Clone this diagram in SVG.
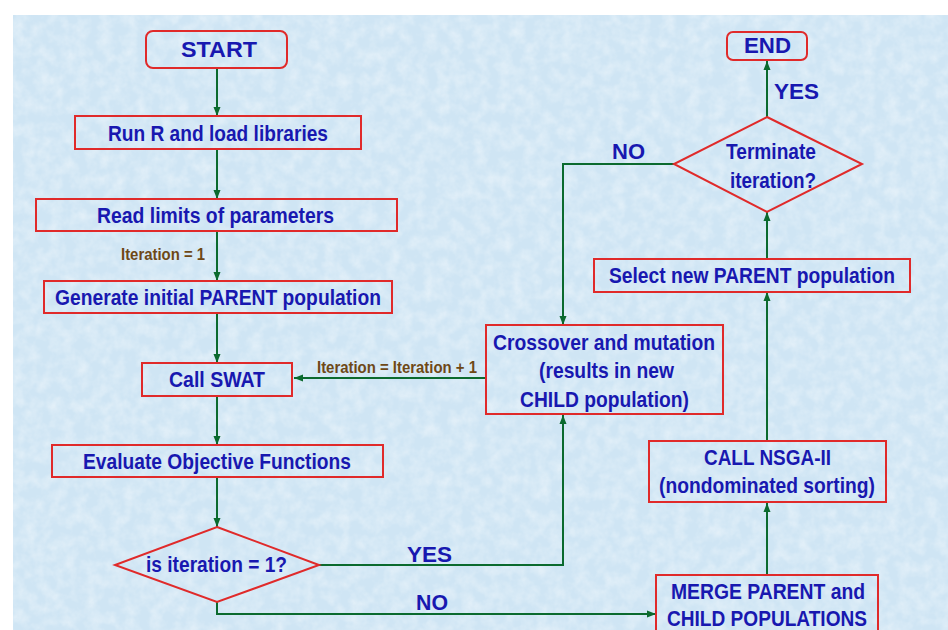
<svg xmlns="http://www.w3.org/2000/svg" width="948" height="630" viewBox="0 0 948 630">
  <defs>
    <filter id="tex" x="0" y="0" width="100%" height="100%">
      <feTurbulence type="fractalNoise" baseFrequency="0.08" numOctaves="3" seed="4" result="n"/>
      <feColorMatrix in="n" type="matrix" values="0 0 0 0 1  0 0 0 0 1  0 0 0 0 1  0 0 0 -1.6 1.05" result="w"/>
      <feComposite in="w" in2="SourceGraphic" operator="in"/>
    </filter>
    <marker id="ah" markerUnits="userSpaceOnUse" markerWidth="10" markerHeight="10" viewBox="0 0 10 10" refX="9" refY="5" orient="auto">
      <path d="M0,1.5 L9,5 L0,8.5 Z" fill="#0b6a2e"/>
    </marker>
  </defs>
  <style>
    .box { fill: none; stroke: #e02a2a; stroke-width: 2; }
    .t { font-family: "Liberation Sans", Arial, sans-serif; font-weight: bold; fill: #1818b0; font-size: 22px; }
    .lbl { font-family: "Liberation Sans", Arial, sans-serif; font-weight: bold; fill: #6e4816; font-size: 17px; }
    .c { fill: none; stroke: #0b6a2e; stroke-width: 2; marker-end: url(#ah); }
  </style>
  <rect x="0" y="0" width="948" height="630" fill="#ffffff"/>
  <rect x="13" y="15" width="935" height="615" fill="#cfe5f4"/>
  <rect x="13" y="15" width="935" height="615" fill="#cfe5f4" filter="url(#tex)" opacity="0.45"/>

  <g id="connectors">
    <line class="c" x1="217" y1="68" x2="217" y2="116"/>
    <line class="c" x1="217" y1="149" x2="217" y2="199"/>
    <line class="c" x1="217" y1="231" x2="217" y2="281"/>
    <line class="c" x1="217" y1="313" x2="217" y2="363"/>
    <line class="c" x1="217" y1="396" x2="217" y2="445"/>
    <line class="c" x1="217" y1="477" x2="217" y2="527"/>
    <path class="c" d="M319,565 H563 V415"/>
    <path class="c" d="M217,602 V614 H656"/>
    <path class="c" d="M767,575 V503"/>
    <path class="c" d="M767,441 V292"/>
    <path class="c" d="M767,259 V212"/>
    <path class="c" d="M767,117 V61"/>
    <path class="c" d="M674,164 H563 V325"/>
    <path class="c" d="M486,378 H294"/>
    <text class="lbl" x="121" y="260" textLength="84" lengthAdjust="spacingAndGlyphs">Iteration = 1</text>
    <text class="lbl" x="317" y="373" textLength="160" lengthAdjust="spacingAndGlyphs">Iteration = Iteration + 1</text>
    <text class="t" x="407" y="562" textLength="45" lengthAdjust="spacingAndGlyphs">YES</text>
    <text class="t" x="416" y="610" textLength="32" lengthAdjust="spacingAndGlyphs">NO</text>
    <text class="t" x="774" y="99" textLength="45" lengthAdjust="spacingAndGlyphs">YES</text>
    <text class="t" x="612" y="159" textLength="33" lengthAdjust="spacingAndGlyphs">NO</text>
  </g>

  <g id="start">
    <rect class="box" x="146" y="31" width="141" height="37" rx="7"/>
    <text class="t" x="181" y="57" font-size="25" textLength="76" lengthAdjust="spacingAndGlyphs">START</text>
  </g>
  <g id="run-r">
    <rect class="box" x="75" y="116" width="286" height="33"/>
    <text class="t" x="108" y="141" textLength="220" lengthAdjust="spacingAndGlyphs">Run R and load libraries</text>
  </g>
  <g id="read-limits">
    <rect class="box" x="36" y="199" width="361" height="32"/>
    <text class="t" x="97" y="223" textLength="237" lengthAdjust="spacingAndGlyphs">Read limits of parameters</text>
  </g>
  <g id="generate">
    <rect class="box" x="44" y="281" width="348" height="32"/>
    <text class="t" x="55" y="305" textLength="326" lengthAdjust="spacingAndGlyphs">Generate initial PARENT population</text>
  </g>
  <g id="call-swat">
    <rect class="box" x="142" y="363" width="150" height="33"/>
    <text class="t" x="169" y="387" textLength="96" lengthAdjust="spacingAndGlyphs">Call SWAT</text>
  </g>
  <g id="evaluate">
    <rect class="box" x="52" y="445" width="331" height="32"/>
    <text class="t" x="83" y="469" textLength="268" lengthAdjust="spacingAndGlyphs">Evaluate Objective Functions</text>
  </g>
  <g id="is-iteration">
    <polygon class="box" points="217,527 319,565 217,602 115,565"/>
    <text class="t" x="146" y="572" textLength="141" lengthAdjust="spacingAndGlyphs">is iteration = 1?</text>
  </g>
  <g id="crossover">
    <rect class="box" x="486" y="325" width="237" height="89"/>
    <text class="t" x="493" y="350" textLength="222" lengthAdjust="spacingAndGlyphs">Crossover and mutation</text>
    <text class="t" x="539" y="378" textLength="135" lengthAdjust="spacingAndGlyphs">(results in new</text>
    <text class="t" x="520" y="407" textLength="169" lengthAdjust="spacingAndGlyphs">CHILD population)</text>
  </g>
  <g id="merge">
    <rect class="box" x="656" y="575" width="222" height="70"/>
    <text class="t" x="671" y="599" textLength="194" lengthAdjust="spacingAndGlyphs">MERGE PARENT and</text>
    <text class="t" x="667" y="626" textLength="200" lengthAdjust="spacingAndGlyphs">CHILD POPULATIONS</text>
  </g>
  <g id="nsga">
    <rect class="box" x="649" y="441" width="237" height="61"/>
    <text class="t" x="704" y="465" textLength="127" lengthAdjust="spacingAndGlyphs">CALL NSGA-II</text>
    <text class="t" x="659" y="493" textLength="216" lengthAdjust="spacingAndGlyphs">(nondominated sorting)</text>
  </g>
  <g id="select">
    <rect class="box" x="594" y="259" width="316" height="33"/>
    <text class="t" x="609" y="283" textLength="286" lengthAdjust="spacingAndGlyphs">Select new PARENT population</text>
  </g>
  <g id="terminate">
    <polygon class="box" points="767,117 862,164 767,212 674,164"/>
    <text class="t" x="726" y="159" textLength="90" lengthAdjust="spacingAndGlyphs">Terminate</text>
    <text class="t" x="730" y="188" textLength="86" lengthAdjust="spacingAndGlyphs">iteration?</text>
  </g>
  <g id="end">
    <rect class="box" x="727" y="32" width="80" height="28" rx="6"/>
    <text class="t" x="744" y="53" font-size="23" textLength="47" lengthAdjust="spacingAndGlyphs">END</text>
  </g>
</svg>
